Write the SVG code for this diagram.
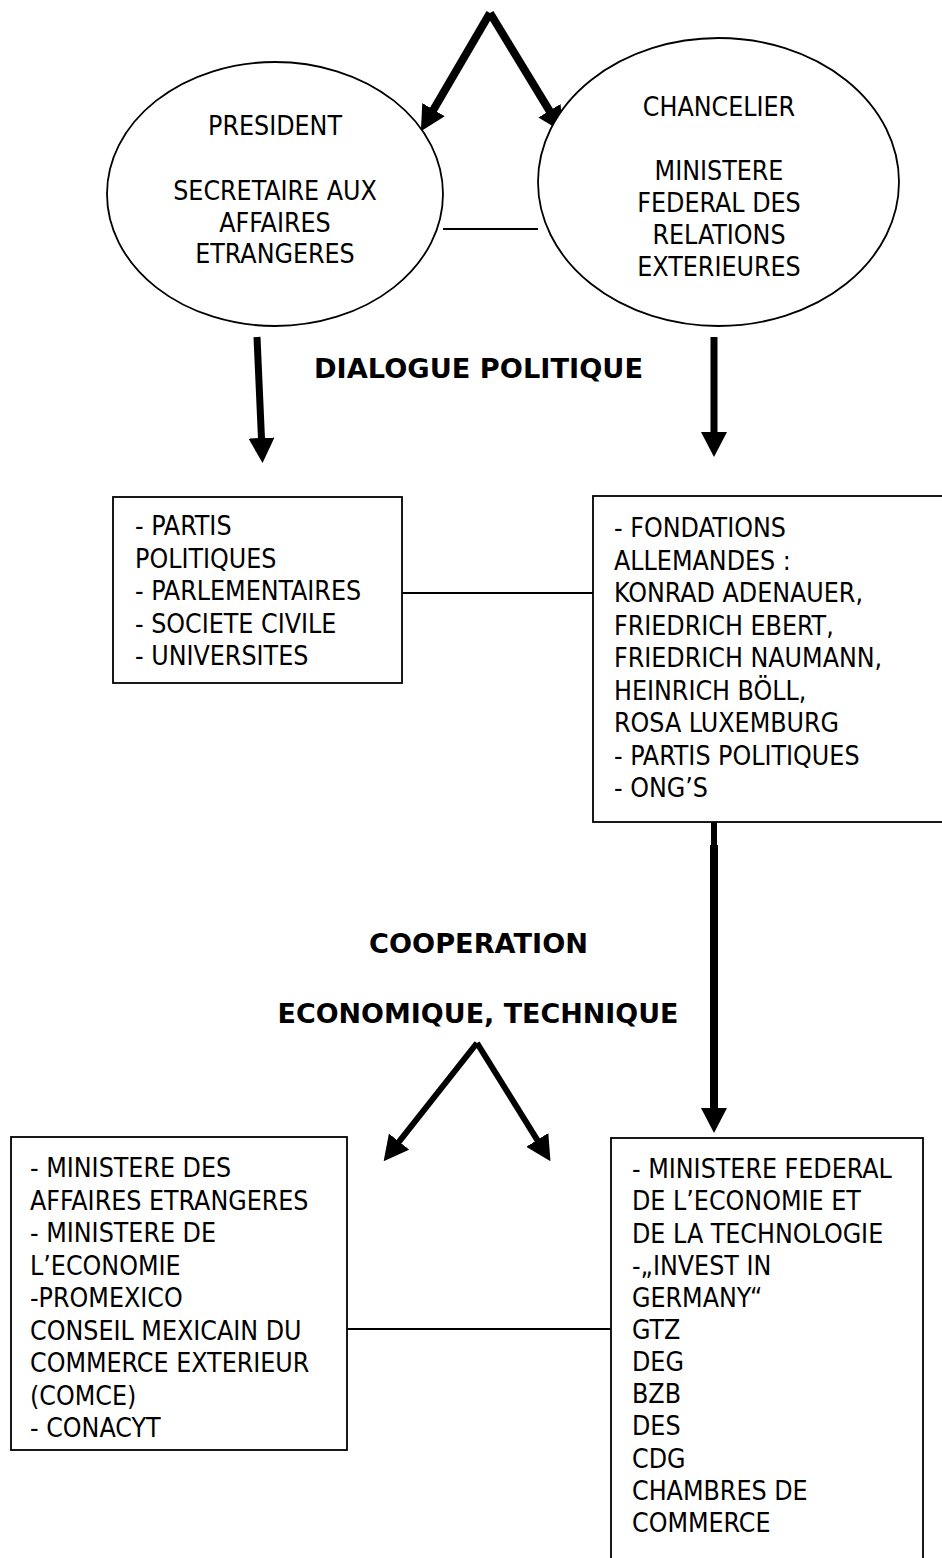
<svg xmlns="http://www.w3.org/2000/svg" width="942" height="1558" viewBox="0 0 942 1558">
<style>
  .shape { fill: #fff; stroke: #000; stroke-width: 1.8; }
  .t { font-family: "DejaVu Sans Condensed", "DejaVu Sans", Tahoma, sans-serif; font-stretch: condensed; font-size: 26.5px; fill: #000; }
  .c { text-anchor: middle; }
  .b { font-family: "DejaVu Sans", Tahoma, sans-serif; font-stretch: normal; font-weight: bold; }
  .conn { stroke: #000; stroke-width: 1.8; fill: none; }
  .arr { stroke: #000; fill: none; stroke-linecap: butt; marker-end: url(#ah); }
</style>
<defs>
  <marker id="ah" markerUnits="userSpaceOnUse" viewBox="0 0 25 26" markerWidth="25" markerHeight="26" refX="1" refY="13" orient="auto">
    <path d="M0,0 L25,13 L0,26 Z" fill="#000"/>
  </marker>
</defs>
<rect width="942" height="1558" fill="#fff"/>

<g id="connectors">
  <line class="conn" x1="443" y1="229" x2="538" y2="229"/>
  <line class="conn" x1="402" y1="593" x2="593" y2="593"/>
  <line class="conn" x1="347" y1="1329" x2="611" y2="1329"/>
  <line class="arr" stroke-width="8" x1="490" y1="13" x2="433" y2="110.5"/>
  <line class="arr" stroke-width="8" x1="490" y1="13" x2="550" y2="111.6"/>
  <line class="arr" stroke-width="7" x1="257" y1="337" x2="261.5" y2="439"/>
  <line class="arr" stroke-width="7" x1="714" y1="337" x2="714" y2="433"/>
  <line stroke="#000" stroke-width="6" x1="714" y1="822" x2="714" y2="846"/>
  <line class="arr" stroke-width="8" x1="714" y1="845" x2="714" y2="1109"/>
  <line class="arr" stroke-width="6" x1="477" y1="1043" x2="398.5" y2="1142.4"/>
  <line class="arr" stroke-width="6" x1="477" y1="1043" x2="537.8" y2="1140.8"/>
</g>

<g id="president">
  <ellipse class="shape" cx="275" cy="194" rx="168" ry="132"/>
  <text class="t c" x="275" y="135">PRESIDENT</text>
  <text class="t c" x="275" y="200">SECRETAIRE AUX</text>
  <text class="t c" x="275" y="232">AFFAIRES</text>
  <text class="t c" x="275" y="263">ETRANGERES</text>
</g>

<g id="chancelier">
  <ellipse class="shape" cx="718.5" cy="182" rx="180.5" ry="144"/>
  <text class="t c" x="719" y="116">CHANCELIER</text>
  <text class="t c" x="719" y="180">MINISTERE</text>
  <text class="t c" x="719" y="212">FEDERAL DES</text>
  <text class="t c" x="719" y="244">RELATIONS</text>
  <text class="t c" x="719" y="276">EXTERIEURES</text>
</g>

<g id="label-dialogue">
  <text class="t c b" x="478.5" y="378" textLength="329" lengthAdjust="spacingAndGlyphs">DIALOGUE POLITIQUE</text>
</g>

<g id="mx-politique">
  <rect class="shape" x="113" y="497" width="289" height="186"/>
  <text class="t" x="135" y="535">- PARTIS</text>
  <text class="t" x="135" y="567.5">POLITIQUES</text>
  <text class="t" x="135" y="600">- PARLEMENTAIRES</text>
  <text class="t" x="135" y="632.5">- SOCIETE CIVILE</text>
  <text class="t" x="135" y="665">- UNIVERSITES</text>
</g>

<g id="de-politique">
  <rect class="shape" x="593" y="496" width="360" height="326"/>
  <text class="t" x="614" y="537">- FONDATIONS</text>
  <text class="t" x="614" y="569.5">ALLEMANDES :</text>
  <text class="t" x="614" y="602">KONRAD ADENAUER,</text>
  <text class="t" x="614" y="634.5">FRIEDRICH EBERT,</text>
  <text class="t" x="614" y="667">FRIEDRICH NAUMANN,</text>
  <text class="t" x="614" y="699.5">HEINRICH BÖLL,</text>
  <text class="t" x="614" y="732">ROSA LUXEMBURG</text>
  <text class="t" x="614" y="764.5">- PARTIS POLITIQUES</text>
  <text class="t" x="614" y="797">- ONG’S</text>
</g>

<g id="label-cooperation">
  <text class="t c b" x="478.5" y="953" textLength="219" lengthAdjust="spacingAndGlyphs">COOPERATION</text>
  <text class="t c b" x="478" y="1023" textLength="401" lengthAdjust="spacingAndGlyphs">ECONOMIQUE, TECHNIQUE</text>
</g>

<g id="mx-economie">
  <rect class="shape" x="11" y="1137" width="336" height="313"/>
  <text class="t" x="30" y="1177">- MINISTERE DES</text>
  <text class="t" x="30" y="1209.5">AFFAIRES ETRANGERES</text>
  <text class="t" x="30" y="1242">- MINISTERE DE</text>
  <text class="t" x="30" y="1274.5">L’ECONOMIE</text>
  <text class="t" x="30" y="1307">-PROMEXICO</text>
  <text class="t" x="30" y="1339.5">CONSEIL MEXICAIN DU</text>
  <text class="t" x="30" y="1372">COMMERCE EXTERIEUR</text>
  <text class="t" x="30" y="1404.5">(COMCE)</text>
  <text class="t" x="30" y="1437">- CONACYT</text>
</g>

<g id="de-economie">
  <rect class="shape" x="611" y="1138" width="312" height="440"/>
  <text class="t" x="632" y="1178">- MINISTERE FEDERAL</text>
  <text class="t" x="632" y="1210">DE L’ECONOMIE ET</text>
  <text class="t" x="632" y="1242.5">DE LA TECHNOLOGIE</text>
  <text class="t" x="632" y="1275">-„INVEST IN</text>
  <text class="t" x="632" y="1307">GERMANY“</text>
  <text class="t" x="632" y="1339">GTZ</text>
  <text class="t" x="632" y="1371">DEG</text>
  <text class="t" x="632" y="1403">BZB</text>
  <text class="t" x="632" y="1435">DES</text>
  <text class="t" x="632" y="1467.5">CDG</text>
  <text class="t" x="632" y="1500">CHAMBRES DE</text>
  <text class="t" x="632" y="1532">COMMERCE</text>
</g>
</svg>
